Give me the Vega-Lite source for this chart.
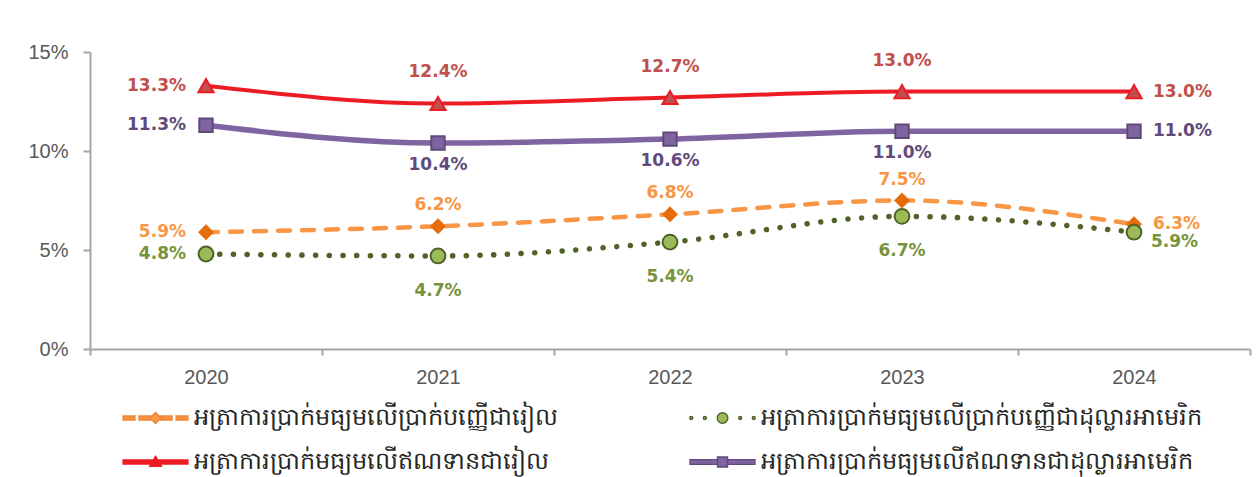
{
  "$schema": "https://vega.github.io/schema/vega-lite/v6.json",
  "width": 1160,
  "height": 297,
  "autosize": {"type": "none"},
  "padding": {"left": 90, "top": 52, "right": 8, "bottom": 128},
  "background": "white",
  "config": {"view": {"stroke": null}, "axis": {"grid": false}, "font": "Liberation Sans"},
  "data": {"values": [
    {"year": "2020", "series": "អត្រាការប្រាក់មធ្យមលើប្រាក់បញ្ញើជារៀល", "value": 0.059},
    {"year": "2021", "series": "អត្រាការប្រាក់មធ្យមលើប្រាក់បញ្ញើជារៀល", "value": 0.062},
    {"year": "2022", "series": "អត្រាការប្រាក់មធ្យមលើប្រាក់បញ្ញើជារៀល", "value": 0.068},
    {"year": "2023", "series": "អត្រាការប្រាក់មធ្យមលើប្រាក់បញ្ញើជារៀល", "value": 0.075},
    {"year": "2024", "series": "អត្រាការប្រាក់មធ្យមលើប្រាក់បញ្ញើជារៀល", "value": 0.063},
    {"year": "2020", "series": "អត្រាការប្រាក់មធ្យមលើប្រាក់បញ្ញើជាដុល្លារអាមេរិក", "value": 0.048},
    {"year": "2021", "series": "អត្រាការប្រាក់មធ្យមលើប្រាក់បញ្ញើជាដុល្លារអាមេរិក", "value": 0.047},
    {"year": "2022", "series": "អត្រាការប្រាក់មធ្យមលើប្រាក់បញ្ញើជាដុល្លារអាមេរិក", "value": 0.054},
    {"year": "2023", "series": "អត្រាការប្រាក់មធ្យមលើប្រាក់បញ្ញើជាដុល្លារអាមេរិក", "value": 0.067},
    {"year": "2024", "series": "អត្រាការប្រាក់មធ្យមលើប្រាក់បញ្ញើជាដុល្លារអាមេរិក", "value": 0.059},
    {"year": "2020", "series": "អត្រាការប្រាក់មធ្យមលើឥណទានជារៀល", "value": 0.133},
    {"year": "2021", "series": "អត្រាការប្រាក់មធ្យមលើឥណទានជារៀល", "value": 0.124},
    {"year": "2022", "series": "អត្រាការប្រាក់មធ្យមលើឥណទានជារៀល", "value": 0.127},
    {"year": "2023", "series": "អត្រាការប្រាក់មធ្យមលើឥណទានជារៀល", "value": 0.130},
    {"year": "2024", "series": "អត្រាការប្រាក់មធ្យមលើឥណទានជារៀល", "value": 0.130},
    {"year": "2020", "series": "អត្រាការប្រាក់មធ្យមលើឥណទានជាដុល្លារអាមេរិក", "value": 0.113},
    {"year": "2021", "series": "អត្រាការប្រាក់មធ្យមលើឥណទានជាដុល្លារអាមេរិក", "value": 0.104},
    {"year": "2022", "series": "អត្រាការប្រាក់មធ្យមលើឥណទានជាដុល្លារអាមេរិក", "value": 0.106},
    {"year": "2023", "series": "អត្រាការប្រាក់មធ្យមលើឥណទានជាដុល្លារអាមេរិក", "value": 0.110},
    {"year": "2024", "series": "អត្រាការប្រាក់មធ្យមលើឥណទានជាដុល្លារអាមេរិក", "value": 0.110}
  ]},
  "encoding": {
    "x": {"field": "year", "type": "ordinal",
      "scale": {"type": "band", "paddingInner": 0, "paddingOuter": 0},
      "axis": {"title": null, "tickBand": "extent", "labelAngle": 0, "domainColor": "#A6A6A6", "domainWidth": 2,
        "tickColor": "#A6A6A6", "tickWidth": 2, "tickSize": 6, "labelFontSize": 20, "labelColor": "#595959",
        "labelPadding": 12, "labelFont": "Liberation Sans"}},
    "y": {"field": "value", "type": "quantitative",
      "scale": {"domain": [0, 0.15], "nice": false},
      "axis": {"title": null, "values": [0, 0.05, 0.1, 0.15], "format": ".0%", "domainColor": "#A6A6A6", "domainWidth": 2,
        "tickColor": "#A6A6A6", "tickWidth": 2, "tickSize": 7, "labelFontSize": 20, "labelColor": "#595959",
        "labelPadding": 15, "labelFont": "Liberation Sans"}}
  },
  "layer": [
    {"transform": [{"filter": "datum.series === 'អត្រាការប្រាក់មធ្យមលើប្រាក់បញ្ញើជារៀល'"}],
     "mark": {"type": "line", "interpolate": "monotone", "stroke": "#F79646", "strokeWidth": 4.5, "strokeDash": [12, 12], "strokeCap": "round"}},
    {"transform": [{"filter": "datum.series === 'អត្រាការប្រាក់មធ្យមលើប្រាក់បញ្ញើជាដុល្លារអាមេរិក'"}],
     "mark": {"type": "line", "interpolate": "monotone", "stroke": "#4F6228", "strokeWidth": 5.5, "strokeDash": [0.1, 13.6], "strokeCap": "round"}},
    {"transform": [{"filter": "datum.series === 'អត្រាការប្រាក់មធ្យមលើឥណទានជារៀល'"}],
     "mark": {"type": "line", "interpolate": "monotone", "stroke": "#ED1C24", "strokeWidth": 4}},
    {"transform": [{"filter": "datum.series === 'អត្រាការប្រាក់មធ្យមលើឥណទានជាដុល្លារអាមេរិក'"}],
     "mark": {"type": "line", "interpolate": "monotone", "stroke": "#8064A2", "strokeWidth": 5.5}},
    {"transform": [{"filter": "datum.series === 'អត្រាការប្រាក់មធ្យមលើប្រាក់បញ្ញើជារៀល'"}],
     "mark": {"type": "point", "shape": "diamond", "filled": true, "size": 240, "fill": "#E46C0A", "stroke": "#E46C0A", "strokeWidth": 0.5, "opacity": 1}},
    {"transform": [{"filter": "datum.series === 'អត្រាការប្រាក់មធ្យមលើប្រាក់បញ្ញើជាដុល្លារអាមេរិក'"}],
     "mark": {"type": "point", "shape": "circle", "filled": true, "size": 220, "fill": "#9BBB59", "stroke": "#4F6228", "strokeWidth": 2, "opacity": 1}},
    {"transform": [{"filter": "datum.series === 'អត្រាការប្រាក់មធ្យមលើឥណទានជារៀល'"}],
     "mark": {"type": "point", "shape": "triangle-up", "filled": true, "size": 230, "fill": "#C0504D", "stroke": "#ED1C24", "strokeWidth": 2, "opacity": 1}},
    {"transform": [{"filter": "datum.series === 'អត្រាការប្រាក់មធ្យមលើឥណទានជាដុល្លារអាមេរិក'"}],
     "mark": {"type": "point", "shape": "square", "filled": true, "size": 180, "fill": "#8064A2", "stroke": "#604A7B", "strokeWidth": 2, "opacity": 1}},
    {"mark": {"type": "point", "filled": true, "opacity": 0},
     "encoding": {
       "fill": {"field": "series", "type": "nominal",
         "scale": {"domain": ["អត្រាការប្រាក់មធ្យមលើប្រាក់បញ្ញើជារៀល", "អត្រាការប្រាក់មធ្យមលើឥណទានជារៀល", "អត្រាការប្រាក់មធ្យមលើប្រាក់បញ្ញើជាដុល្លារអាមេរិក", "អត្រាការប្រាក់មធ្យមលើឥណទានជាដុល្លារអាមេរិក"],
           "range": ["#F79646", "#ED1C24", "#9BBB59", "#8064A2"]},
         "legend": {"title": null, "orient": "none", "legendX": 27, "legendY": 354, "columns": 2, "symbolSize": 139, "symbolStrokeWidth": 1.4, "symbolOpacity": 1,
           "labelOffset": 53, "labelFontSize": 24, "labelColor": "#262626", "labelLimit": 0, "columnPadding": 126, "rowPadding": 20}},
       "stroke": {"field": "series", "type": "nominal",
         "scale": {"domain": ["អត្រាការប្រាក់មធ្យមលើប្រាក់បញ្ញើជារៀល", "អត្រាការប្រាក់មធ្យមលើឥណទានជារៀល", "អត្រាការប្រាក់មធ្យមលើប្រាក់បញ្ញើជាដុល្លារអាមេរិក", "អត្រាការប្រាក់មធ្យមលើឥណទានជាដុល្លារអាមេរិក"],
           "range": ["#F08536", "#ED1C24", "#4F6228", "#604A7B"]},
         "legend": {"title": null, "orient": "none", "legendX": 27, "legendY": 354, "columns": 2, "symbolSize": 139, "symbolStrokeWidth": 1.4, "symbolOpacity": 1,
           "labelOffset": 53, "labelFontSize": 24, "labelColor": "#262626", "labelLimit": 0, "columnPadding": 126, "rowPadding": 20}},
       "shape": {"field": "series", "type": "nominal",
         "scale": {"domain": ["អត្រាការប្រាក់មធ្យមលើប្រាក់បញ្ញើជារៀល", "អត្រាការប្រាក់មធ្យមលើឥណទានជារៀល", "អត្រាការប្រាក់មធ្យមលើប្រាក់បញ្ញើជាដុល្លារអាមេរិក", "អត្រាការប្រាក់មធ្យមលើឥណទានជាដុល្លារអាមេរិក"],
           "range": [
             "M-1,-0.33H1V0.33H-1Z M1.7,-0.33H3.6V0.33H1.7Z M5.4,-0.33H7.3V0.33H5.4Z M8,-0.33H10V0.33H8Z M4.5,-0.95L5.45,0L4.5,0.95L3.55,0Z",
             "M-1,-0.35H10V0.35H-1Z M4.5,-0.95L5.5,0.75L3.5,0.75Z",
             "M-1.05,0a0.25,0.25 0 1,0 0.5,0a0.25,0.25 0 1,0 -0.5,0Z M1.25,0a0.25,0.25 0 1,0 0.5,0a0.25,0.25 0 1,0 -0.5,0Z M7.25,0a0.25,0.25 0 1,0 0.5,0a0.25,0.25 0 1,0 -0.5,0Z M9.55,0a0.25,0.25 0 1,0 0.5,0a0.25,0.25 0 1,0 -0.5,0Z M3.6,0a0.9,0.9 0 1,0 1.8,0a0.9,0.9 0 1,0 -1.8,0Z",
             "M-1,-0.4H3.65V0.4H-1Z M5.35,-0.4H10V0.4H5.35Z M3.65,-0.85H5.35V0.85H3.65Z"
           ]},
         "legend": {"title": null, "orient": "none", "legendX": 27, "legendY": 354, "columns": 2, "symbolSize": 139, "symbolStrokeWidth": 1.4, "symbolOpacity": 1,
           "labelOffset": 53, "labelFontSize": 24, "labelColor": "#262626", "labelLimit": 0, "columnPadding": 126, "rowPadding": 20}}
     }},
    {"transform": [{"filter": "datum.year === '2020'"}],
     "mark": {"type": "text", "align": "right", "baseline": "middle", "dx": -20, "font": "DejaVu Sans", "fontWeight": "bold", "fontSize": 17},
     "encoding": {"text": {"field": "value", "type": "quantitative", "format": ".1%"},
       "color": {"condition": [
         {"test": "datum.series === 'អត្រាការប្រាក់មធ្យមលើប្រាក់បញ្ញើជារៀល'", "value": "#F79646"},
         {"test": "datum.series === 'អត្រាការប្រាក់មធ្យមលើប្រាក់បញ្ញើជាដុល្លារអាមេរិក'", "value": "#77933C"},
         {"test": "datum.series === 'អត្រាការប្រាក់មធ្យមលើឥណទានជារៀល'", "value": "#C0504D"}], "value": "#604A7B"}}},
    {"transform": [{"filter": "datum.year === '2024' && datum.series !== 'អត្រាការប្រាក់មធ្យមលើប្រាក់បញ្ញើជាដុល្លារអាមេរិក'"}],
     "mark": {"type": "text", "align": "left", "baseline": "middle", "dx": 19, "font": "DejaVu Sans", "fontWeight": "bold", "fontSize": 17},
     "encoding": {"text": {"field": "value", "type": "quantitative", "format": ".1%"},
       "color": {"condition": [
         {"test": "datum.series === 'អត្រាការប្រាក់មធ្យមលើប្រាក់បញ្ញើជារៀល'", "value": "#F79646"},
         {"test": "datum.series === 'អត្រាការប្រាក់មធ្យមលើឥណទានជារៀល'", "value": "#C0504D"}], "value": "#604A7B"}}},
    {"transform": [{"filter": "datum.year === '2024' && datum.series === 'អត្រាការប្រាក់មធ្យមលើប្រាក់បញ្ញើជាដុល្លារអាមេរិក'"}],
     "mark": {"type": "text", "align": "left", "baseline": "middle", "dx": 17, "dy": 10, "font": "DejaVu Sans", "fontWeight": "bold", "fontSize": 17, "color": "#77933C"},
     "encoding": {"text": {"field": "value", "type": "quantitative", "format": ".1%"}}},
    {"transform": [{"filter": "datum.year !== '2020' && datum.year !== '2024' && datum.series === 'អត្រាការប្រាក់មធ្យមលើប្រាក់បញ្ញើជារៀល'"}],
     "mark": {"type": "text", "align": "center", "baseline": "middle", "dy": -21, "font": "DejaVu Sans", "fontWeight": "bold", "fontSize": 17, "color": "#F79646"},
     "encoding": {"text": {"field": "value", "type": "quantitative", "format": ".1%"}}},
    {"transform": [{"filter": "datum.year !== '2020' && datum.year !== '2024' && datum.series === 'អត្រាការប្រាក់មធ្យមលើប្រាក់បញ្ញើជាដុល្លារអាមេរិក'"}],
     "mark": {"type": "text", "align": "center", "baseline": "middle", "dy": 35, "font": "DejaVu Sans", "fontWeight": "bold", "fontSize": 17, "color": "#77933C"},
     "encoding": {"text": {"field": "value", "type": "quantitative", "format": ".1%"}}},
    {"transform": [{"filter": "datum.year !== '2020' && datum.year !== '2024' && datum.series === 'អត្រាការប្រាក់មធ្យមលើឥណទានជារៀល'"}],
     "mark": {"type": "text", "align": "center", "baseline": "middle", "dy": -31, "font": "DejaVu Sans", "fontWeight": "bold", "fontSize": 17, "color": "#C0504D"},
     "encoding": {"text": {"field": "value", "type": "quantitative", "format": ".1%"}}},
    {"transform": [{"filter": "datum.year !== '2020' && datum.year !== '2024' && datum.series === 'អត្រាការប្រាក់មធ្យមលើឥណទានជាដុល្លារអាមេរិក'"}],
     "mark": {"type": "text", "align": "center", "baseline": "middle", "dy": 22, "font": "DejaVu Sans", "fontWeight": "bold", "fontSize": 17, "color": "#604A7B"},
     "encoding": {"text": {"field": "value", "type": "quantitative", "format": ".1%"}}}
  ]
}
